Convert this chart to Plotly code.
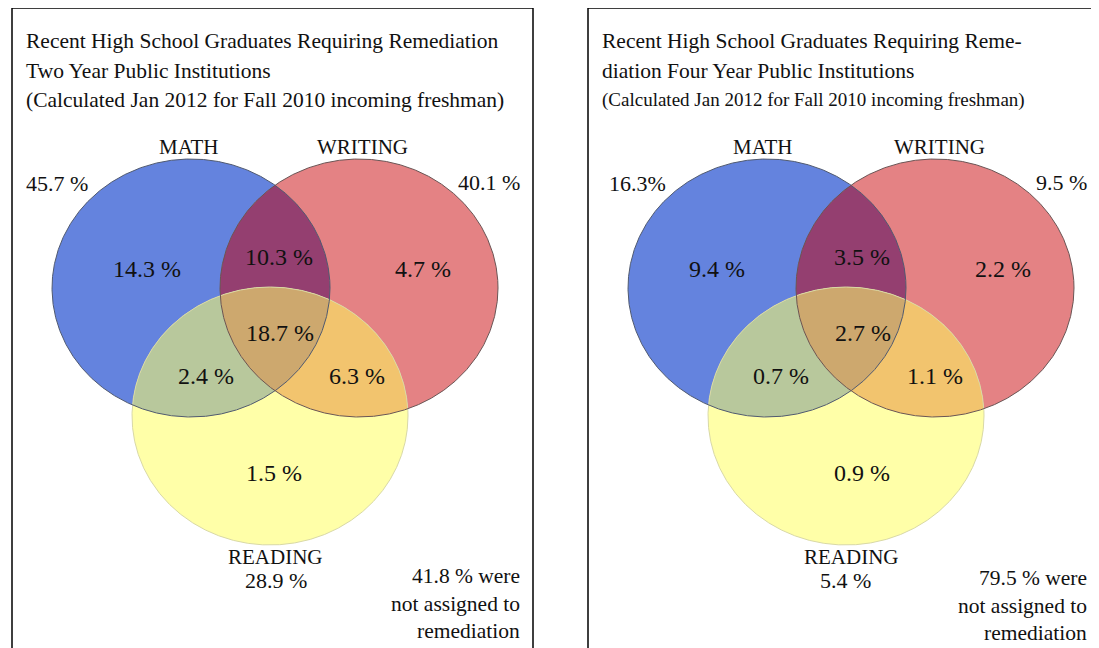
import numpy as np
import plotly.graph_objects as go

# --- data ---
panels = ["Two Year", "Four Year"]
title_lines = [
    ["Recent High School Graduates Requiring Remediation",
     "Two Year Public Institutions",
     "(Calculated Jan 2012 for Fall 2010 incoming freshman)"],
    ["Recent High School Graduates Requiring Reme-",
     "diation Four Year Public Institutions",
     "(Calculated Jan 2012 for Fall 2010 incoming freshman)"],
]
sets = ["MATH", "WRITING", "READING"]
math_total = [45.7, 16.3]
writing_total = [40.1, 9.5]
reading_total = [28.9, 5.4]
math_only = [14.3, 9.4]
writing_only = [4.7, 2.2]
reading_only = [1.5, 0.9]
math_writing = [10.3, 3.5]
math_reading = [2.4, 0.7]
writing_reading = [6.3, 1.1]
all_three = [18.7, 2.7]
not_assigned = [41.8, 79.5]

W, H = 1099, 648
OFF = 8  # page body margin
SERIF = "Liberation Serif"
BLUE, RED, YELLOW = "#6483de", "#e48284", "#ffffa8"
PURPLE, GREEN, ORANGE, BROWN = "#943f70", "#b8c89c", "#f2c46e", "#cda86e"

# label placement (pixel coords inside each panel, panel 2 shifted by 576)
POS = [
    dict(math=189, writing=362, reading=275, mt=24, rt=276, m=147, w=423, mw=279,
         all=280, mr=206, wr=357, r=274),
    dict(math=187, writing=363, reading=275, mt=31, rt=269, m=141, w=427, mw=286,
         all=287, mr=205, wr=359, r=286),
]


def ell_pts(e, n=1440):
    cx, cy, rx, ry = e
    t = np.linspace(0, 2 * np.pi, n)
    return cx + rx * np.cos(t), cy + ry * np.sin(t)


def inside(e, x, y):
    cx, cy, rx, ry = e
    return ((x - cx) / rx) ** 2 + ((y - cy) / ry) ** 2 <= 1.0005


def inter(ells):
    xs, ys = [], []
    for i, e in enumerate(ells):
        x, y = ell_pts(e)
        m = np.ones_like(x, dtype=bool)
        for j, o in enumerate(ells):
            if j != i:
                m &= inside(o, x, y)
        xs.append(x[m])
        ys.append(y[m])
    x = np.concatenate(xs)
    y = np.concatenate(ys)
    a = np.arctan2(y - y.mean(), x - x.mean())
    k = np.argsort(a)
    return np.append(x[k], x[k][0]), np.append(y[k], y[k][0])


def fill(fig, x, y, color):
    fig.add_scatter(x=x, y=y, mode="lines", fill="toself", fillcolor=color,
                    line=dict(width=0), hoverinfo="skip", showlegend=False)


def pct(v, sep=" "):
    return f"{v}{sep}%"


fig = go.Figure()
ann = []


def txt(x, y, s, size=20, xa="center"):
    ann.append(dict(x=x, y=y, text=s, showarrow=False, xanchor=xa, yanchor="middle",
                    font=dict(family=SERIF, size=size, color="#111")))


for p in range(len(panels)):
    dx = 576 * p
    q = POS[p]
    blue = (191 + dx, 288, 139, 129)
    red = (359 + dx, 288, 139, 129)
    yel = (270 + dx, 416, 138, 129)

    fill(fig, *ell_pts(blue), BLUE)
    fill(fig, *ell_pts(red), RED)
    fill(fig, *inter([blue, red]), PURPLE)
    fill(fig, *ell_pts(yel), YELLOW)
    fill(fig, *inter([blue, yel]), GREEN)
    fill(fig, *inter([red, yel]), ORANGE)
    fill(fig, *inter([blue, red, yel]), BROWN)
    for e, c in [(yel, "#d9d9a6"), (blue, "#505a70"), (red, "#6a5555")]:
        x, y = ell_pts(e)
        fig.add_scatter(x=x, y=y, mode="lines", line=dict(color=c, width=1),
                        hoverinfo="skip", showlegend=False)

    # panel frame
    fig.add_shape(type="rect", x0=12 + dx, x1=533 + dx, y0=8, y1=700,
                  line=dict(color="black", width=1.5), fillcolor="rgba(0,0,0,0)", layer="above")

    # titles
    tx = 24 + dx
    txt(tx, 41, title_lines[p][0], 21.5, "left")
    txt(tx, 71, title_lines[p][1], 21.5, "left")
    txt(tx, 100, title_lines[p][2], 21.5 if p == 0 else 19, "left")

    # set names
    txt(q["math"] + dx, 147, sets[0], 21)
    txt(q["writing"] + dx, 147, sets[1], 21)
    txt(q["reading"] + dx, 557, sets[2], 21)

    # totals
    right_edge = 522 + dx if p == 0 else 1089
    txt(q["mt"] + dx, 183, pct(math_total[p], " " if p == 0 else ""), 22, "left")
    txt(right_edge, 182, pct(writing_total[p]), 22, "right")
    txt(q["rt"] + dx, 580, pct(reading_total[p]), 22)

    # regions
    txt(q["m"] + dx, 269, pct(math_only[p]), 24)
    txt(q["w"] + dx, 269, pct(writing_only[p]), 24)
    txt(q["mw"] + dx, 257, pct(math_writing[p]), 24)
    txt(q["all"] + dx, 333, pct(all_three[p]), 24)
    txt(q["mr"] + dx, 376, pct(math_reading[p]), 24)
    txt(q["wr"] + dx, 376, pct(writing_reading[p]), 24)
    txt(q["r"] + dx, 473, pct(reading_only[p]), 24)

    # not assigned note
    txt(right_edge, 576 if p == 0 else 578, pct(not_assigned[p]) + " were", 21.5, "right")
    txt(right_edge, 604 if p == 0 else 606, "not assigned to", 21.5, "right")
    txt(right_edge, 631 if p == 0 else 633, "remediation", 21.5, "right")

fig.update_layout(
    width=W - OFF, height=H - OFF, margin=dict(l=0, r=0, t=0, b=0),
    paper_bgcolor="white", plot_bgcolor="white",
    xaxis=dict(range=[OFF, W], visible=False, fixedrange=True),
    yaxis=dict(range=[H, OFF], visible=False, fixedrange=True),
    annotations=ann, showlegend=False,
)
fig.write_html("out.html")
